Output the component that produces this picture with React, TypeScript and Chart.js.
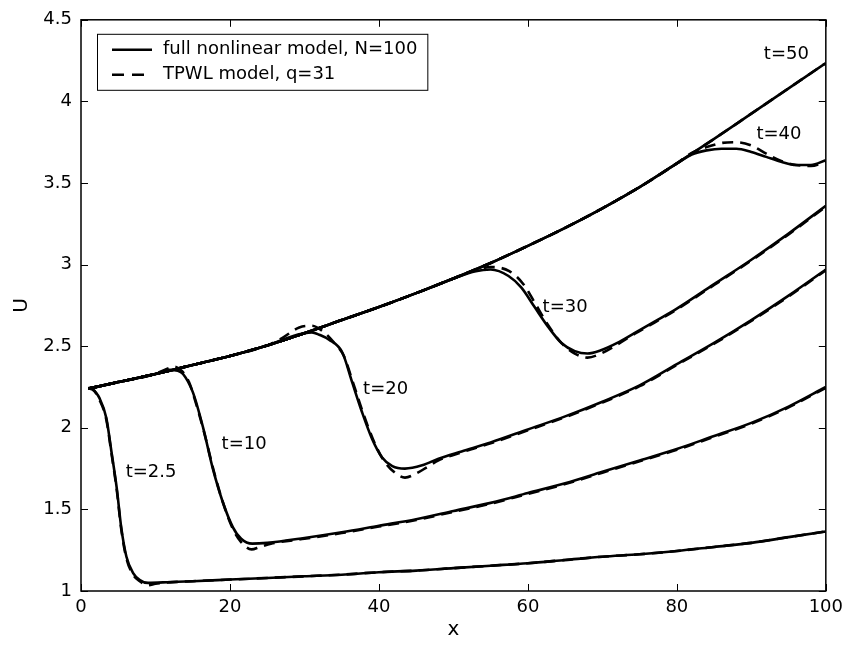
import React, { useEffect, useRef } from "react";
import { Chart, registerables } from "chart.js";

Chart.register(...registerables);

// ---------- data ----------
const xTicks = [0, 20, 40, 60, 80, 100];
const yTicks = [1, 1.5, 2, 2.5, 3, 3.5, 4, 4.5];

// t = 50 (upper envelope), full model
const t50X = [1, 5, 10, 15, 20, 25, 30, 35, 40, 45, 50, 55, 60, 65, 70, 75, 80, 85, 90, 95, 100];
const t50U = [2.24, 2.28, 2.33, 2.385, 2.44, 2.505, 2.58, 2.66, 2.74, 2.825, 2.915, 3.01, 3.115, 3.225, 3.345, 3.475, 3.62, 3.77, 3.925, 4.08, 4.235];
const t50dU = [2.24, 2.28, 2.33, 2.385, 2.44, 2.505, 2.58, 2.66, 2.74, 2.825, 2.915, 3.01, 3.115, 3.225, 3.345, 3.475, 3.62, 3.77, 3.925, 4.08, 4.235];

// t = 40
const t40X = [1, 5, 10, 15, 20, 25, 30, 35, 40, 45, 50, 55, 60, 65, 70, 75, 80, 82, 84, 86, 88, 90, 92, 94, 96, 98, 100];
const t40U = [2.24, 2.28, 2.33, 2.385, 2.44, 2.505, 2.58, 2.66, 2.74, 2.825, 2.915, 3.01, 3.115, 3.225, 3.345, 3.475, 3.62, 3.675, 3.7, 3.71, 3.71, 3.69, 3.66, 3.63, 3.61, 3.61, 3.64];
const t40dU = [2.24, 2.28, 2.33, 2.385, 2.44, 2.505, 2.58, 2.66, 2.74, 2.825, 2.915, 3.01, 3.115, 3.225, 3.345, 3.475, 3.62, 3.685, 3.72, 3.745, 3.75, 3.73, 3.68, 3.635, 3.61, 3.605, 3.63];

// t = 30
const t30X = [1, 5, 10, 15, 20, 25, 30, 35, 40, 45, 50, 53, 55, 57.4, 59.1, 60.9, 62.7, 64.5, 66.3, 68, 69.8, 72, 74.3, 77, 80, 85, 90, 95, 100];
const t30U = [2.24, 2.28, 2.33, 2.385, 2.44, 2.505, 2.58, 2.66, 2.74, 2.825, 2.915, 2.96, 2.97, 2.93, 2.86, 2.74, 2.62, 2.52, 2.47, 2.455, 2.475, 2.52, 2.58, 2.65, 2.73, 2.88, 3.03, 3.19, 3.36];
const t30dX = [1, 5, 10, 15, 20, 25, 30, 35, 40, 45, 50, 53, 55, 57.5, 59.4, 61, 62.7, 64.5, 66.3, 68, 69.8, 72, 74.3, 77, 80, 85, 90, 95, 100];
const t30dU = [2.24, 2.28, 2.33, 2.385, 2.44, 2.505, 2.58, 2.66, 2.74, 2.825, 2.915, 2.965, 2.985, 2.96, 2.88, 2.76, 2.63, 2.52, 2.455, 2.43, 2.455, 2.51, 2.575, 2.645, 2.725, 2.875, 3.025, 3.185, 3.355];

// t = 20
const t20X = [1, 5, 10, 15, 20, 25, 28, 30, 31, 32, 33.3, 35.1, 36.4, 37.7, 39.1, 40.4, 41.8, 43.5, 45.8, 48, 51.1, 55, 60, 65, 70, 75, 80, 85, 90, 95, 100];
const t20U = [2.24, 2.28, 2.33, 2.385, 2.44, 2.505, 2.555, 2.58, 2.585, 2.57, 2.54, 2.46, 2.28, 2.1, 1.93, 1.82, 1.765, 1.75, 1.77, 1.81, 1.855, 1.91, 1.99, 2.07, 2.16, 2.26, 2.39, 2.52, 2.66, 2.81, 2.97];
const t20dX = [1, 5, 10, 15, 20, 25, 27, 29.3, 31, 32.5, 34, 35.3, 36.5, 37.8, 39.2, 40.5, 42, 43.5, 45, 46.5, 48, 51.1, 55, 60, 65, 70, 75, 80, 85, 90, 95, 100];
const t20dU = [2.24, 2.28, 2.33, 2.385, 2.44, 2.505, 2.55, 2.615, 2.625, 2.59, 2.52, 2.44, 2.28, 2.1, 1.93, 1.81, 1.73, 1.695, 1.72, 1.76, 1.8, 1.85, 1.905, 1.985, 2.065, 2.155, 2.255, 2.385, 2.515, 2.655, 2.805, 2.965];

// t = 10
const t10X = [1, 5, 10, 11.9, 13, 13.7, 15, 16.4, 17.7, 19, 20.4, 21.5, 23, 25, 30, 35, 40, 45, 50, 55, 60, 65, 70, 75, 80, 85, 90, 95, 100];
const t10U = [2.24, 2.28, 2.33, 2.355, 2.35, 2.33, 2.22, 2.0, 1.75, 1.55, 1.39, 1.32, 1.29, 1.295, 1.325, 1.36, 1.4, 1.44, 1.49, 1.54, 1.6, 1.66, 1.73, 1.8, 1.87, 1.95, 2.03, 2.13, 2.25];
const t10dX = [1, 5, 10, 11.5, 12.5, 13.5, 14.5, 15.5, 16.6, 17.8, 19, 20.4, 21.5, 22.9, 24, 25.5, 30, 35, 40, 45, 50, 55, 60, 65, 70, 75, 80, 85, 90, 95, 100];
const t10dU = [2.24, 2.28, 2.33, 2.36, 2.375, 2.35, 2.28, 2.14, 1.96, 1.74, 1.55, 1.38, 1.3, 1.255, 1.27, 1.29, 1.32, 1.355, 1.395, 1.435, 1.485, 1.535, 1.595, 1.655, 1.725, 1.795, 1.865, 1.945, 2.025, 2.125, 2.245];

// t = 2.5
const t25X = [1, 1.5, 2.5, 3.4, 4.1, 4.8, 5.4, 6.1, 7.0, 7.9, 9, 12, 15, 20, 25, 30, 35, 40, 45, 50, 55, 60, 65, 70, 75, 80, 85, 90, 95, 100];
const t25U = [2.24, 2.235, 2.18, 2.06, 1.85, 1.63, 1.39, 1.21, 1.11, 1.067, 1.05, 1.055, 1.06, 1.07, 1.08, 1.09, 1.1, 1.115, 1.125, 1.14, 1.155, 1.17, 1.19, 1.21, 1.225, 1.245, 1.27, 1.295, 1.33, 1.365];
const t25dX = [1, 1.5, 2.5, 3.4, 4.1, 4.8, 5.4, 6.1, 7.0, 7.9, 9, 10, 12, 15, 20, 25, 30, 35, 40, 45, 50, 55, 60, 65, 70, 75, 80, 85, 90, 95, 100];
const t25dU = [2.245, 2.24, 2.17, 2.05, 1.84, 1.62, 1.38, 1.2, 1.1, 1.06, 1.035, 1.045, 1.053, 1.06, 1.07, 1.08, 1.09, 1.1, 1.115, 1.125, 1.14, 1.155, 1.17, 1.19, 1.21, 1.225, 1.245, 1.27, 1.295, 1.33, 1.365];

const curveLabels = ["t=2.5", "t=10", "t=20", "t=30", "t=40", "t=50"];
const labelX = [9.4, 21.9, 40.9, 65.0, 93.7, 94.7];
const labelU = [1.73, 1.9, 2.235, 2.74, 3.8, 4.29];

const legendNames = ["full nonlinear model, N=100", "TPWL model, q=31"];

// ---------- helpers ----------
const zip = (xs: number[], us: number[]) => xs.map((x, i) => ({ x, y: us[i] }));
const FONT = '"DejaVu Sans", "Liberation Sans", Arial, sans-serif';
const DASH = [11, 7];
const LW = 2.6;

const overlay = {
  id: "overlay",
  afterDatasetsDraw(chart: any) {
    const { ctx, chartArea: a, scales } = chart;
    const sx = scales.x;
    const sy = scales.y;
    ctx.save();
    // box
    ctx.strokeStyle = "#000";
    ctx.lineWidth = 1.5;
    ctx.setLineDash([]);
    ctx.strokeRect(a.left, a.top, a.right - a.left, a.bottom - a.top);
    // inward ticks
    ctx.lineWidth = 1;
    const tl = 7;
    ctx.beginPath();
    for (const v of xTicks) {
      const p = Math.round(sx.getPixelForValue(v)) + 0.5;
      ctx.moveTo(p, a.bottom);
      ctx.lineTo(p, a.bottom - tl);
      ctx.moveTo(p, a.top);
      ctx.lineTo(p, a.top + tl);
    }
    for (const v of yTicks) {
      const p = Math.round(sy.getPixelForValue(v)) + 0.5;
      ctx.moveTo(a.left, p);
      ctx.lineTo(a.left + tl, p);
      ctx.moveTo(a.right, p);
      ctx.lineTo(a.right - tl, p);
    }
    ctx.stroke();

    // curve labels
    ctx.fillStyle = "#000";
    ctx.font = `18px ${FONT}`;
    ctx.textAlign = "center";
    ctx.textBaseline = "middle";
    curveLabels.forEach((t, i) => {
      ctx.fillText(t, sx.getPixelForValue(labelX[i]), sy.getPixelForValue(labelU[i]));
    });

    // legend
    ctx.font = `18px ${FONT}`;
    const bx = a.left + 16;
    const by = a.top + 14;
    const textX = bx + 66;
    const tw = Math.max(...legendNames.map((n) => ctx.measureText(n).width));
    const bw = textX - bx + tw + 10;
    const bh = 56;
    ctx.fillStyle = "#fff";
    ctx.fillRect(bx, by, bw, bh);
    ctx.strokeStyle = "#000";
    ctx.lineWidth = 1;
    ctx.strokeRect(bx + 0.5, by + 0.5, bw, bh);
    const rows = [by + 16, by + 41];
    ctx.lineWidth = LW;
    ctx.setLineDash([]);
    ctx.beginPath();
    ctx.moveTo(bx + 15, rows[0]);
    ctx.lineTo(bx + 55, rows[0]);
    ctx.stroke();
    ctx.setLineDash([12, 8]);
    ctx.beginPath();
    ctx.moveTo(bx + 15, rows[1]);
    ctx.lineTo(bx + 55, rows[1]);
    ctx.stroke();
    ctx.setLineDash([]);
    ctx.fillStyle = "#000";
    ctx.textAlign = "left";
    ctx.textBaseline = "middle";
    legendNames.forEach((n, i) => ctx.fillText(n, textX, rows[i]));
    ctx.restore();
  },
};

export default function App() {
  const ref = useRef<HTMLCanvasElement | null>(null);

  useEffect(() => {
    if (!ref.current) return;
    const solid = (label: string, xs: number[], us: number[]) => ({
      label,
      data: zip(xs, us),
      borderColor: "#000",
      backgroundColor: "#000",
      borderWidth: LW,
      pointRadius: 0,
      fill: false,
      cubicInterpolationMode: "monotone" as const,
    });
    const dashed = (label: string, xs: number[], us: number[]) => ({
      ...solid(label, xs, us),
      borderDash: DASH,
    });

    const chart = new Chart(ref.current, {
      type: "line",
      data: {
        datasets: [
          solid("full t=2.5", t25X, t25U),
          solid("full t=10", t10X, t10U),
          solid("full t=20", t20X, t20U),
          solid("full t=30", t30X, t30U),
          solid("full t=40", t40X, t40U),
          solid("full t=50", t50X, t50U),
          dashed("TPWL t=2.5", t25dX, t25dU),
          dashed("TPWL t=10", t10dX, t10dU),
          dashed("TPWL t=20", t20dX, t20dU),
          dashed("TPWL t=30", t30dX, t30dU),
          dashed("TPWL t=40", t40X, t40dU),
          dashed("TPWL t=50", t50X, t50dU),
        ],
      },
      options: {
        responsive: false,
        animation: false,
        devicePixelRatio: 1,
        layout: { padding: { top: 13, right: 21, left: 0, bottom: 0 } },
        plugins: { legend: { display: false }, tooltip: { enabled: false } },
        scales: {
          x: {
            type: "linear",
            min: 0,
            max: 100,
            afterFit: (s: any) => {
              s.height = 54;
            },
            afterBuildTicks: (s: any) => {
              s.ticks = xTicks.map((v) => ({ value: v }));
            },
            grid: { display: false, drawTicks: false },
            border: { display: false },
            ticks: {
              color: "#000",
              font: { family: FONT, size: 18 },
              padding: 6,
              maxRotation: 0,
              autoSkip: false,
              callback: (v: any) => String(v),
            },
            title: {
              display: true,
              text: "x",
              color: "#000",
              font: { family: FONT, size: 20 },
              padding: { top: 0, bottom: 3 },
            },
          },
          y: {
            type: "linear",
            min: 1,
            max: 4.5,
            afterFit: (s: any) => {
              s.width = 81;
            },
            afterBuildTicks: (s: any) => {
              s.ticks = yTicks.map((v) => ({ value: v }));
            },
            grid: { display: false, drawTicks: false },
            border: { display: false },
            ticks: {
              color: "#000",
              font: { family: FONT, size: 18 },
              padding: 9,
              autoSkip: false,
              callback: (v: any) => String(v),
            },
            title: {
              display: true,
              text: "U",
              color: "#000",
              font: { family: FONT, size: 20 },
              padding: { top: 10, bottom: 0 },
            },
          },
        },
      },
      plugins: [overlay],
    });
    return () => chart.destroy();
  }, []);

  return (
    <div style={{ position: "absolute", left: 0, top: 0, width: 849, height: 645, background: "#fff" }}>
      <canvas ref={ref} width={849} height={645} style={{ display: "block" }} />
    </div>
  );
}
